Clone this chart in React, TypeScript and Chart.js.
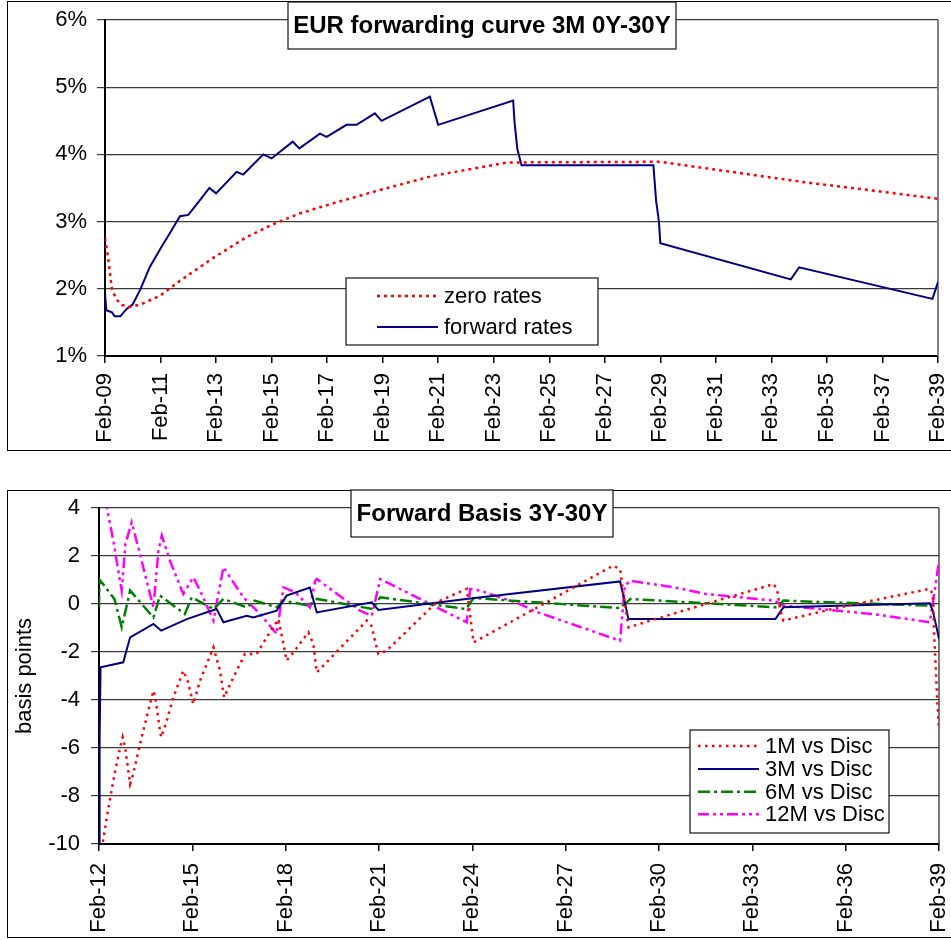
import React, { useEffect, useRef } from 'react';
import { Chart, registerables } from 'chart.js';

Chart.register(...registerables);

const FONT = '"Liberation Sans", Arial, Helvetica, sans-serif';

// ---------- Top chart: EUR forwarding curve ----------
const topTitle = 'EUR forwarding curve 3M 0Y-30Y';
const topXLabels = ['Feb-09', 'Feb-11', 'Feb-13', 'Feb-15', 'Feb-17', 'Feb-19', 'Feb-21', 'Feb-23', 'Feb-25', 'Feb-27', 'Feb-29', 'Feb-31', 'Feb-33', 'Feb-35', 'Feb-37', 'Feb-39'];
const topYTicks = [1, 2, 3, 4, 5, 6];

// years since Feb-09
const zeroT = [0, 0.1, 0.25, 0.4, 0.6, 0.9, 1.3, 2.0, 2.7, 3.9, 5.1, 6.0, 7.0, 8.2, 9.9, 11.8, 13.0, 14.5, 20.0, 20.5, 22.9, 25.3, 27.7, 30];
const zeroV = [2.75, 2.5, 2.0, 1.85, 1.76, 1.73, 1.77, 1.9, 2.12, 2.46, 2.77, 2.95, 3.12, 3.27, 3.47, 3.68, 3.77, 3.88, 3.89, 3.86, 3.72, 3.58, 3.46, 3.34];

const fwdT = [0, 0.05, 0.25, 0.35, 0.55, 0.78, 1.0, 1.26, 1.62, 2.0, 2.34, 2.7, 3.0, 3.42, 3.76, 4.0, 4.74, 4.98, 5.7, 6.0, 6.76, 7.0, 7.74, 7.98, 8.7, 9.06, 9.72, 9.96, 11.7, 12.0, 14.7, 14.75, 14.85, 15.0, 19.75, 19.85, 19.95, 20.0, 24.7, 25.0, 29.8, 30];
const fwdV = [1.92, 1.68, 1.65, 1.59, 1.59, 1.7, 1.77, 1.98, 2.33, 2.6, 2.83, 3.08, 3.1, 3.32, 3.5, 3.42, 3.74, 3.7, 4.0, 3.94, 4.19, 4.09, 4.31, 4.26, 4.44, 4.44, 4.61, 4.5, 4.86, 4.44, 4.8, 4.48, 4.08, 3.84, 3.84, 3.3, 3.0, 2.68, 2.14, 2.32, 1.85, 2.1];

// ---------- Bottom chart: Forward Basis ----------
const botTitle = 'Forward Basis 3Y-30Y';
const botXLabels = ['Feb-12', 'Feb-15', 'Feb-18', 'Feb-21', 'Feb-24', 'Feb-27', 'Feb-30', 'Feb-33', 'Feb-36', 'Feb-39'];
const botYTitle = 'basis points';

// years since Feb-12
const m1T = [0.09, 0.25, 0.46, 0.68, 0.76, 0.84, 1.0, 1.1, 1.32, 1.53, 1.75, 1.8, 1.96, 2.0, 2.18, 2.39, 2.71, 2.85, 3.03, 3.25, 3.68, 3.89, 4.02, 4.32, 4.69, 5.07, 5.39, 5.77, 5.93, 6.03, 6.25, 6.73, 6.89, 7.0, 8.61, 8.75, 8.98, 9.25, 10.85, 11.82, 12.04, 16.53, 16.75, 16.85, 17.02, 19.5, 21.69, 21.8, 21.9, 22.0, 23.8, 26.7, 26.8, 26.85, 26.9, 26.95, 27.0];
const m1V = [-10.2, -8.9, -7.36, -5.97, -5.55, -5.97, -7.5, -7.08, -5.83, -4.72, -3.61, -3.8, -5.28, -5.55, -4.86, -3.89, -2.78, -3.2, -4.17, -3.19, -1.81, -2.78, -3.89, -3.06, -2.08, -2.08, -1.39, -0.63, -1.67, -2.36, -2.01, -1.18, -1.67, -2.85, -0.69, -0.9, -2.08, -1.94, 0.07, 0.63, -1.6, 1.6, 1.45, 0.5, -0.97, 0.0, 0.83, 0.56, -0.28, -0.69, -0.14, 0.63, 0.42, -1.39, -2.78, -4.17, -5.2];

const m3T = [0, 0.02, 0.05, 0.78, 1.0, 1.75, 2.0, 2.82, 3.78, 4.0, 4.75, 4.96, 5.71, 6.03, 6.78, 7.0, 8.77, 8.98, 11.8, 16.75, 17.02, 21.74, 22.0, 26.7, 26.8, 26.9, 27.0];
const m3V = [-10.2, -5.6, -2.64, -2.43, -1.39, -0.83, -1.11, -0.63, -0.21, -0.76, -0.49, -0.56, -0.28, 0.35, 0.69, -0.35, 0.07, -0.25, 0.21, 0.94, -0.63, -0.63, -0.14, 0.03, -0.28, -0.85, -1.46];

const m6T = [0, 0.02, 0.15, 0.5, 0.73, 0.85, 0.94, 1.0, 1.75, 1.96, 2.76, 2.98, 3.68, 4.0, 4.75, 5.0, 5.71, 5.93, 6.78, 7.0, 8.8, 9.04, 11.8, 12.04, 16.75, 17.08, 21.8, 22.0, 26.7, 27.0];
const m6V = [-0.15, 1.0, 0.8, 0.2, -0.97, -0.3, 0.21, 0.56, -0.56, 0.35, -0.42, 0.28, -0.21, 0.21, -0.14, 0.14, -0.14, 0.14, -0.07, 0.21, -0.21, 0.28, -0.21, 0.25, -0.17, 0.21, -0.14, 0.14, -0.07, 0.0];

const m12T = [0.2, 0.25, 0.46, 0.62, 0.73, 0.85, 1.05, 1.32, 1.53, 1.75, 1.91, 2.02, 2.28, 2.71, 3.03, 3.25, 3.68, 4.0, 4.64, 5.18, 5.71, 5.93, 6.3, 6.78, 6.95, 7.0, 8.39, 8.77, 9.04, 10.43, 10.96, 11.82, 11.93, 12.25, 13.53, 13.96, 16.75, 16.9, 17.08, 18.5, 19.5, 21.7, 22.0, 24.9, 26.7, 26.8, 27.0];
const m12V = [4.4, 4.03, 2.64, 1.39, 0.56, 2.5, 3.4, 2.08, 0.97, -0.14, 2.22, 2.85, 1.8, 0.42, 1.11, 0.56, -0.69, 1.53, 0.28, -0.42, -1.25, 0.69, 0.5, -0.14, 0.97, 1.04, -0.28, -0.49, 1.04, 0.14, -0.21, -0.76, 0.63, 0.56, 0.0, -0.28, -1.53, 0.76, 0.97, 0.69, 0.42, 0.14, -0.07, -0.42, -0.76, 0.0, 1.8];

const pts = (t: number[], v: number[]) => t.map((x, i) => ({ x, y: v[i] }));

const noPad = (s: any) => {
  s.paddingLeft = 0;
  s.paddingRight = 0;
  s.paddingTop = 0;
  s.paddingBottom = 0;
};

const overlayPlugin = {
  id: 'overlay',
  beforeDatasetsDraw(chart: any, _args: any, opts: any) {
    const { ctx, chartArea: a } = chart;
    ctx.save();
    ctx.strokeStyle = opts.rightColor;
    ctx.lineWidth = opts.rightWidth;
    ctx.beginPath();
    ctx.moveTo(a.right, a.top);
    ctx.lineTo(a.right, a.bottom);
    ctx.stroke();
    ctx.restore();
  },
  afterDatasetsDraw(chart: any, _args: any, opts: any) {
    const ctx = chart.ctx;
    ctx.save();
    const t = opts.title;
    ctx.fillStyle = '#ffffff';
    ctx.fillRect(t.x, t.y, t.w, t.h);
    ctx.strokeStyle = '#111';
    ctx.lineWidth = 1.2;
    ctx.strokeRect(t.x, t.y, t.w, t.h);
    ctx.fillStyle = '#000';
    ctx.font = `bold 24px ${FONT}`;
    ctx.textAlign = 'center';
    ctx.textBaseline = 'middle';
    ctx.fillText(t.text, t.x + t.w / 2, t.y + t.h / 2 + 1);

    const l = opts.legend;
    ctx.fillStyle = '#ffffff';
    ctx.fillRect(l.x, l.y, l.w, l.h);
    ctx.strokeStyle = '#111';
    ctx.lineWidth = 1.2;
    ctx.strokeRect(l.x, l.y, l.w, l.h);
    ctx.font = `22px ${FONT}`;
    ctx.textAlign = 'left';
    ctx.textBaseline = 'middle';
    chart.data.datasets.forEach((ds: any, i: number) => {
      const y = l.rows[i];
      ctx.strokeStyle = ds.borderColor;
      ctx.lineWidth = ds.borderWidth;
      ctx.setLineDash(ds.borderDash || []);
      ctx.beginPath();
      ctx.moveTo(l.sx0, y);
      ctx.lineTo(l.sx1, y);
      ctx.stroke();
      ctx.setLineDash([]);
      ctx.fillStyle = '#000';
      ctx.fillText(ds.label, l.tx, y + 1);
    });
    ctx.restore();
  },
};

function TopChart() {
  const ref = useRef<HTMLCanvasElement>(null);
  useEffect(() => {
    const chart = new Chart(ref.current!, {
      type: 'line',
      data: {
        datasets: [
          { label: 'zero rates', data: pts(zeroT, zeroV), borderColor: '#ff0000', borderWidth: 2.5, borderDash: [3, 4], pointRadius: 0, tension: 0, fill: false },
          { label: 'forward rates', data: pts(fwdT, fwdV), borderColor: '#000080', borderWidth: 2, pointRadius: 0, tension: 0, fill: false },
        ],
      },
      options: {
        animation: false,
        responsive: false,
        devicePixelRatio: 1,
        layout: { padding: { left: 0, top: 20, right: 13, bottom: 0 } },
        plugins: {
          legend: { display: false },
          title: { display: false },
          tooltip: { enabled: false },
          overlay: {
            rightColor: '#808080',
            rightWidth: 2,
            title: { text: topTitle, x: 288, y: 2, w: 388, h: 47 },
            legend: { x: 346, y: 278, w: 252, h: 67, rows: [296, 327], sx0: 377, sx1: 438, tx: 444 },
          },
        } as any,
        scales: {
          x: {
            type: 'linear',
            min: 0,
            max: 30,
            afterFit: (s: any) => { s.height = 104; noPad(s); },
            afterBuildTicks: (s: any) => { s.ticks = topXLabels.map((_, i) => ({ value: i * 2 })); },
            ticks: {
              autoSkip: false,
              minRotation: 90,
              maxRotation: 90,
              padding: 10,
              color: '#000',
              font: { family: FONT, size: 22 },
              callback: (_v: any, i: number) => topXLabels[i],
            },
            grid: { drawOnChartArea: false, drawTicks: true, tickLength: 7, color: '#000', lineWidth: 1.5 },
            border: { display: true, color: '#000', width: 2 },
          },
          y: {
            min: 1,
            max: 6,
            afterFit: (s: any) => { s.width = 105; noPad(s); },
            afterBuildTicks: (s: any) => { s.ticks = topYTicks.map((v) => ({ value: v })); },
            ticks: {
              padding: 10,
              color: '#000',
              font: { family: FONT, size: 22 },
              callback: (v: any) => `${v}%`,
            },
            grid: { drawOnChartArea: true, drawTicks: true, tickLength: 8, color: '#3a3a3a', lineWidth: 1.2 },
            border: { display: true, color: '#000', width: 2 },
          },
        },
      },
      plugins: [overlayPlugin],
    });
    return () => chart.destroy();
  }, []);
  return <canvas ref={ref} width={951} height={460} style={{ position: 'absolute', left: 0, top: 0, width: 951, height: 460 }} />;
}

function BottomChart() {
  const ref = useRef<HTMLCanvasElement>(null);
  useEffect(() => {
    const chart = new Chart(ref.current!, {
      type: 'line',
      data: {
        datasets: [
          { label: '1M vs Disc', data: pts(m1T, m1V), borderColor: '#ff0000', borderWidth: 2.5, borderDash: [2.5, 4.5], pointRadius: 0, tension: 0, fill: false },
          { label: '3M vs Disc', data: pts(m3T, m3V), borderColor: '#000080', borderWidth: 2, pointRadius: 0, tension: 0, fill: false },
          { label: '6M vs Disc', data: pts(m6T, m6V), borderColor: '#008000', borderWidth: 2.5, borderDash: [12, 4, 3, 4], pointRadius: 0, tension: 0, fill: false },
          { label: '12M vs Disc', data: pts(m12T, m12V), borderColor: '#ff00ff', borderWidth: 2.5, borderDash: [11, 4, 3, 4, 3, 4], pointRadius: 0, tension: 0, fill: false },
        ],
      },
      options: {
        animation: false,
        responsive: false,
        devicePixelRatio: 1,
        layout: { padding: { left: 8, top: 38, right: 12, bottom: 0 } },
        plugins: {
          legend: { display: false },
          title: { display: false },
          tooltip: { enabled: false },
          overlay: {
            rightColor: '#222',
            rightWidth: 1.2,
            title: { text: botTitle, x: 351, y: 20, w: 262, h: 47 },
            legend: { x: 690, y: 260, w: 199, h: 103, rows: [276, 299, 321.7, 344.3], sx0: 698, sx1: 759, tx: 765 },
          },
        } as any,
        scales: {
          x: {
            type: 'linear',
            min: 0,
            max: 27,
            afterFit: (s: any) => { s.height = 96; noPad(s); },
            afterBuildTicks: (s: any) => { s.ticks = botXLabels.map((_, i) => ({ value: i * 3 })); },
            ticks: {
              autoSkip: false,
              minRotation: 90,
              maxRotation: 90,
              padding: 12,
              color: '#000',
              font: { family: FONT, size: 22 },
              callback: (_v: any, i: number) => botXLabels[i],
            },
            grid: { drawOnChartArea: false, drawTicks: true, tickLength: 7, color: '#000', lineWidth: 1.5 },
            border: { display: true, color: '#000', width: 2 },
          },
          y: {
            min: -10,
            max: 4,
            afterFit: (s: any) => { s.width = 91; noPad(s); },
            ticks: {
              stepSize: 2,
              padding: 11,
              color: '#000',
              font: { family: FONT, size: 22 },
            },
            title: { display: true, text: botYTitle, color: '#000', font: { family: FONT, size: 22 }, padding: { top: 4, bottom: 4 } },
            grid: { drawOnChartArea: true, drawTicks: true, tickLength: 8, color: '#3a3a3a', lineWidth: 1.2 },
            border: { display: true, color: '#000', width: 2 },
          },
        },
      },
      plugins: [overlayPlugin],
    });
    return () => chart.destroy();
  }, []);
  return <canvas ref={ref} width={951} height={470} style={{ position: 'absolute', left: 0, top: 470, width: 951, height: 470 }} />;
}

export default function App() {
  return (
    <div style={{ position: 'absolute', left: 0, top: 0, width: 951, height: 940, overflow: 'hidden', background: '#fff' }}>
      <div style={{ position: 'absolute', left: 7, top: 1, width: 980, height: 450, border: '1.3px solid #000', boxSizing: 'border-box' }} />
      <div style={{ position: 'absolute', left: 7, top: 490, width: 980, height: 448, border: '1.3px solid #000', boxSizing: 'border-box' }} />
      <TopChart />
      <BottomChart />
    </div>
  );
}
